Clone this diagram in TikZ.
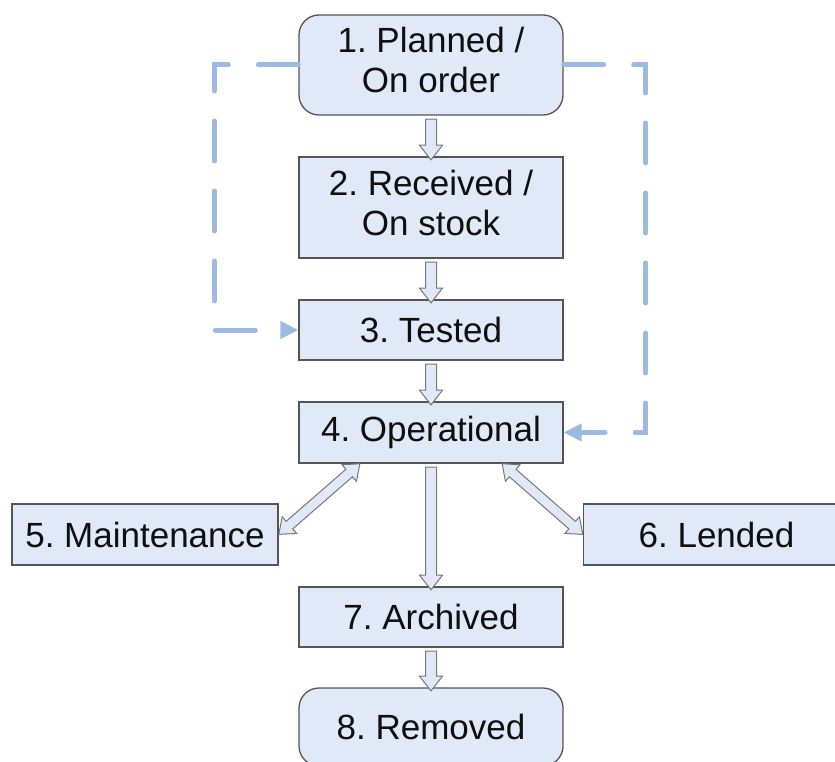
\documentclass[tikz,border=0pt]{standalone}
\usepackage{fontspec}
\setmainfont{Liberation Sans}
\usetikzlibrary{shapes.arrows,arrows.meta,calc}
\frenchspacing

\definecolor{boxfill}{RGB}{224,233,247}
\definecolor{boxline}{RGB}{85,85,85}
\definecolor{arrline}{RGB}{120,120,120}
\definecolor{flowblue}{RGB}{158,186,226}
\definecolor{ink}{RGB}{15,15,15}

\tikzset{
  state/.style={draw=boxline, line width=1.3pt, fill=boxfill, text=ink,
    minimum width=264pt, inner sep=0pt, align=center,
    font=\fontsize{35}{40}\selectfont},
  roundstate/.style={state, rounded corners=20pt},
  twoline/.style={text depth=10pt},
  blk/.style={draw=arrline, fill=boxfill, line width=1pt, inner sep=5pt,
    outer sep=0pt, single arrow, single arrow head extend=6pt,
    single arrow tip angle=76},
  dblk/.style={draw=arrline, fill=boxfill, line width=1pt, inner sep=4.5pt,
    outer sep=0pt, double arrow, double arrow head extend=6pt,
    double arrow tip angle=76},
  flow/.style={draw=flowblue, line width=5pt, line cap=round,
    dash pattern=on 40pt off 30pt,
    -{Triangle[length=18pt,width=17pt,fill=flowblue]}},
}

% hollow block arrow laid between two points
\newcommand\blockarrow[3]{%
  \path let \p1=(#2), \p2=(#3),
    \n1={veclen(\x2-\x1,\y2-\y1)}, \n2={atan2(\y2-\y1,\x2-\x1)} in
    node[#1, minimum height=\n1, rotate=\n2] at ($(\p1)!0.5!(\p2)$) {};}

\begin{document}
\begin{tikzpicture}[x=1pt,y=-1pt]
  \useasboundingbox (0,0) rectangle (835,762);
  \clip (0,0) rectangle (835,762);
  \fill[white] (0,0) rectangle (835,762);

  % states
  \node[roundstate, twoline, minimum height=100pt] (planned) at (431,65) {1. Planned /\\On order};
  \node[state, twoline, minimum height=101pt] (received) at (431,207.5) {2. Received /\\On stock};
  \node[state, minimum height=60pt] (tested) at (431,330) {3. Tested};
  \node[state, minimum height=61pt] (oper) at (431,432.5) {4. Operational};
  \node[state, minimum width=266pt, minimum height=61pt] (maint) at (145,534.5) {5. Maintenance};
  \node[state, minimum width=266pt, minimum height=61pt] (lended) at (716.5,534.5) {6. Lended};
  \node[state, minimum height=60pt] (archived) at (431,617) {7. Archived};
  \node[roundstate, minimum height=78pt] (removed) at (431,727) {8. Removed};

  % attachment points on the lower edge of state 4
  \coordinate (operL) at ($(oper.south)+(-71,0)$);
  \coordinate (operR) at ($(oper.south)+(71,0)$);

  % main flow
  \blockarrow{blk}{planned.south}{received.north}
  \blockarrow{blk}{received.south}{tested.north}
  \blockarrow{blk}{tested.south}{oper.north}
  \blockarrow{blk}{oper.south}{archived.north}
  \blockarrow{blk}{archived.south}{removed.north}

  % side states
  \blockarrow{dblk}{operL}{maint.east}
  \blockarrow{dblk}{operR}{lended.west}

  % shortcuts
  \draw[flow] (planned.west) -- ++(-84,0) |- (tested.west);
  \draw[flow] (planned.east) -- ++(82,0) |- (oper.east);
\end{tikzpicture}
\end{document}
